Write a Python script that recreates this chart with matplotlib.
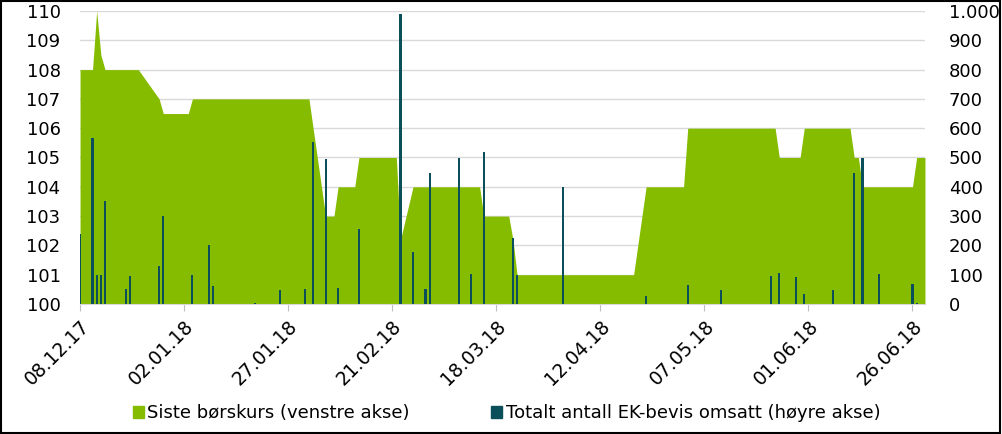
import numpy as np
import pandas as pd
import matplotlib
matplotlib.use('Agg')
import matplotlib.pyplot as plt
import matplotlib.dates as mdates
from matplotlib.patches import Patch, Rectangle

# siste børskurs (breakpoints of the area)
price_dates = ['2017-12-08', '2017-12-11', '2017-12-12', '2017-12-13', '2017-12-14',
               '2017-12-22', '2017-12-27', '2017-12-28', '2018-01-03', '2018-01-04',
               '2018-02-01', '2018-02-02', '2018-02-05', '2018-02-07', '2018-02-08',
               '2018-02-12', '2018-02-13', '2018-02-22', '2018-02-23', '2018-02-26',
               '2018-03-14', '2018-03-15', '2018-03-21', '2018-03-22', '2018-03-23',
               '2018-04-20', '2018-04-23', '2018-05-02', '2018-05-03', '2018-05-24',
               '2018-05-25', '2018-05-30', '2018-05-31', '2018-06-11', '2018-06-12',
               '2018-06-13', '2018-06-14', '2018-06-26', '2018-06-27', '2018-06-29']
price = [108, 108, 110, 108.5, 108,
         108, 107, 106.5, 106.5, 107,
         107, 106, 103, 103, 104,
         104, 105, 105, 102.2, 104,
         104, 103, 103, 102.2, 101,
         101, 104, 104, 106, 106,
         105, 105, 106, 106, 105,
         105, 104, 104, 105, 105]

# totalt antall EK-bevis omsatt
vol_dates = ['2017-12-08', '2017-12-11', '2017-12-12', '2017-12-13', '2017-12-14',
             '2017-12-19', '2017-12-20', '2017-12-27', '2017-12-28', '2018-01-04',
             '2018-01-08', '2018-01-09', '2018-01-19', '2018-01-25', '2018-01-31',
             '2018-02-02', '2018-02-05', '2018-02-08', '2018-02-13', '2018-02-23',
             '2018-02-26', '2018-03-01', '2018-03-02', '2018-03-09', '2018-03-12',
             '2018-03-15', '2018-03-22', '2018-03-23', '2018-04-03', '2018-04-23',
             '2018-05-03', '2018-05-11', '2018-05-23', '2018-05-25', '2018-05-29',
             '2018-05-31', '2018-06-07', '2018-06-12', '2018-06-14', '2018-06-18',
             '2018-06-26', '2018-06-27']
volume = [240, 565, 100, 100, 350,
          50, 97, 131, 300, 98,
          200, 60, 5, 48, 51,
          552, 495, 55, 255, 990,
          179, 50, 446, 498, 101,
          519, 225, 99, 400, 27,
          66, 48, 96, 107, 93,
          34, 48, 448, 497, 102,
          68, 5]

green = '#86BC00'
teal = '#0B4F5B'

px = pd.to_datetime(price_dates)
vx = pd.to_datetime(vol_dates)

fig = plt.figure(figsize=(10.03, 4.34), dpi=100)
ax = fig.add_axes([0.0798, 0.2995, 0.8424, 0.6752])
ax.set_axisbelow(True)
ax.fill_between(px, 100, price, color=green, linewidth=0, zorder=1)
ax.set_ylim(100, 110)
ax.set_yticks(range(100, 111))
ax.grid(axis='y', color='#D9D9D9', linewidth=1)
ax.set_xlim(pd.Timestamp('2017-12-08'), pd.Timestamp('2018-06-29'))

ticks = pd.date_range('2017-12-08', periods=9, freq='25D')
ax.set_xticks(ticks)
ax.xaxis.set_major_formatter(mdates.DateFormatter('%d.%m.%y'))
plt.setp(ax.get_xticklabels(), rotation=45, ha='right', rotation_mode='anchor', fontsize=13.5)
ax.tick_params(axis='x', colors='#BFBFBF', length=5, labelcolor='black', pad=4)
ax.tick_params(axis='y', length=0, labelsize=13, pad=14)
for s in ['top', 'left', 'right']:
    ax.spines[s].set_visible(False)
ax.spines['bottom'].set_color('#D9D9D9')

ax2 = ax.twinx()
ax2.bar(vx, volume, width=0.5, color=teal, zorder=3)
ax2.set_ylim(0, 1000)
ax2.set_yticks(range(0, 1001, 100))
ax2.set_yticklabels([f'{v:,}'.replace(',', '.') for v in range(0, 1001, 100)])
ax2.tick_params(axis='y', length=0, labelsize=13, pad=17)
for s in ['top', 'left', 'right', 'bottom']:
    ax2.spines[s].set_visible(False)

handles = [Patch(color=green), Patch(color=teal)]
labels = ['Siste børskurs (venstre akse)', 'Totalt antall EK-bevis omsatt (høyre akse)']
fig.legend(handles, labels, loc='center', bbox_to_anchor=(0.505, 0.048), ncol=2,
           frameon=False, fontsize=13, handlelength=0.6, handleheight=0.6,
           handletextpad=0.2, columnspacing=4.5)

fig.add_artist(Rectangle((0.001, 0.003), 0.996, 0.995, transform=fig.transFigure,
                         fill=False, edgecolor='black', linewidth=1.5))

fig.savefig('out.png', dpi=100)
